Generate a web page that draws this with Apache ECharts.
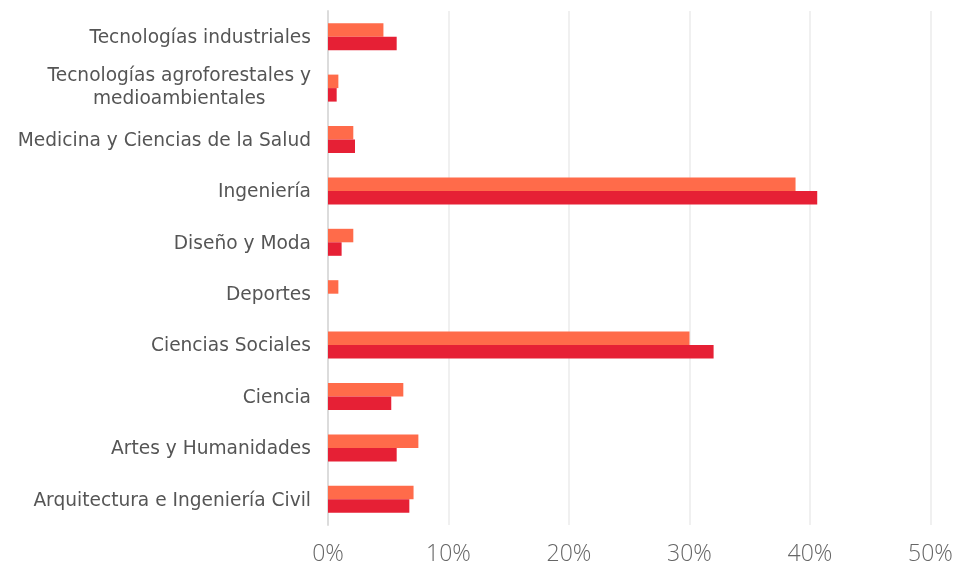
<!DOCTYPE html>
<html><head><meta charset="utf-8">
<script src="https://cdn.jsdelivr.net/npm/echarts@6/dist/echarts.min.js"></script>
<style>html,body{margin:0;padding:0;background:#fff}#c{width:960px;height:566px}</style>
</head><body><div id="c"></div>
<script>
var categories = ["Tecnologías industriales","Tecnologías agroforestales y\nmedioambientales","Medicina y Ciencias de la Salud","Ingeniería","Diseño y Moda","Deportes","Ciencias Sociales","Ciencia","Artes y Humanidades","Arquitectura e Ingeniería Civil"];
var seriesA = [4.6, 0.86, 2.1, 38.8, 2.1, 0.86, 30.0, 6.25, 7.5, 7.1];
var seriesB = [5.7, 0.72, 2.24, 40.6, 1.13, 0, 32.0, 5.25, 5.7, 6.75];
var xTicks = [0, 10, 20, 30, 40, 50];

var chart = echarts.init(document.getElementById('c'));
var font = '"DejaVu Sans", "Noto Sans", sans-serif';
var xfont = '"Open Sans", "Noto Sans", sans-serif';
var fs = 18.6;
var cv = document.createElement('canvas').getContext('2d');
cv.font = fs + 'px ' + font;
var firstLineW = cv.measureText('Tecnologías agroforestales y').width;
chart.setOption({
  animation: false,
  grid: {left: 328, right: 29.5, top: 11, bottom: 41, containLabel: false},
  xAxis: {
    type: 'value', min: xTicks[0], max: xTicks[xTicks.length-1], interval: 10,
    axisLine: {show: false}, axisTick: {show: false},
    splitLine: {lineStyle: {color: '#ebebeb', width: 1.5}},
    axisLabel: {formatter: '{value}%', fontSize: 23, color: '#666', margin: 18, fontFamily: xfont, fontWeight: 300}
  },
  yAxis: {
    type: 'category', data: categories, inverse: true,
    axisLine: {lineStyle: {color: '#dcdcdc', width: 2}}, axisTick: {show: false},
    axisLabel: {
      fontSize: fs, color: '#555', margin: 17, fontFamily: font, lineHeight: 23,
      formatter: function (v) {
        var p = v.split('\n');
        if (p.length === 1) return '{a|' + v + '}';
        return '{b|' + p[0] + '}\n{c|' + p[1] + '}';
      },
      rich: {
        a: {fontSize: fs, color: '#555', fontFamily: font, lineHeight: 23, padding: [3, 0, 0, 0]},
        b: {fontSize: fs, color: '#555', fontFamily: font, lineHeight: 23},
        c: {fontSize: fs, color: '#555', fontFamily: font, lineHeight: 23, width: firstLineW, align: 'center'}
      }
    }
  },
  series: [
    {type: 'bar', name: 'A', data: seriesA, barWidth: 13.5, barGap: '0%', itemStyle: {color: '#FF6B4A'}},
    {type: 'bar', name: 'B', data: seriesB, barWidth: 13.5, barGap: '0%', itemStyle: {color: '#E62035'}}
  ]
});
</script></body></html>
